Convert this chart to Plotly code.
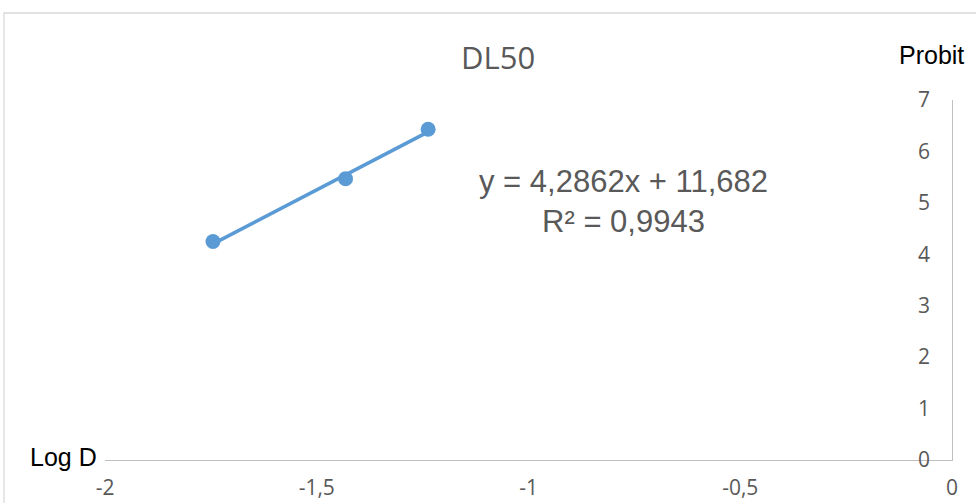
import plotly.graph_objects as go

# Log dose vs probit data
log_dose = [-1.745, -1.432, -1.237]
probit = [4.25, 5.47, 6.43]

# Linear trendline reported on the chart
slope = 4.2862
intercept = 11.682
r_squared = 0.9943

x_ticks = [-2, -1.5, -1, -0.5, 0]
x_tick_text = ["-2", "-1,5", "-1", "-0,5", "0"]
y_ticks = [0, 1, 2, 3, 4, 5, 6, 7]

blue = "#5B9BD5"
grey_text = "#595959"
axis_grey = "#BFBFBF"

trend_x = [min(log_dose), max(log_dose)]
trend_y = [slope * v + intercept for v in trend_x]

fig = go.Figure()
fig.add_trace(go.Scatter(
    x=trend_x, y=trend_y, mode="lines",
    line=dict(color=blue, width=3.6), hoverinfo="skip", showlegend=False,
))
fig.add_trace(go.Scatter(
    x=log_dose, y=probit, mode="markers",
    marker=dict(color=blue, size=15), showlegend=False,
))

fig.update_layout(
    width=976, height=503,
    margin=dict(l=105, r=24, t=100, b=43),
    paper_bgcolor="white", plot_bgcolor="white",
    showlegend=False,
    xaxis=dict(
        range=[-2, 0], tickvals=x_ticks, ticktext=x_tick_text,
        showgrid=False, zeroline=False, showline=True, linecolor=axis_grey, linewidth=1.3,
        ticks="", ticklabelstandoff=9, automargin=False, ticklabeloverflow="allow",
        tickfont=dict(family="Open Sans", size=21, color=grey_text),
    ),
    yaxis=dict(
        range=[0, 7], tickvals=y_ticks, side="right", ticklabelposition="inside",
        showgrid=False, zeroline=False, showline=True, linecolor=axis_grey, linewidth=1.3,
        ticks="", ticklabelstandoff=23, automargin=False, ticklabeloverflow="allow",
        tickfont=dict(family="Open Sans", size=21, color=grey_text),
    ),
    shapes=[dict(
        type="rect", xref="paper", yref="paper",
        x0=(4 - 105) / 847, x1=1.2, y0=-0.3, y1=(460 - 13) / 360,
        line=dict(color="#D9D9D9", width=1.3), fillcolor="rgba(0,0,0,0)", layer="below",
    )],
    annotations=[
        dict(text="DL50", xref="paper", yref="paper", x=(498 - 105) / 847, y=(460 - 57) / 360,
             showarrow=False, font=dict(family="Open Sans", size=31, color=grey_text),
             xanchor="center", yanchor="middle"),
        dict(text="Probit", xref="paper", yref="paper", x=(931 - 105) / 847, y=(460 - 55) / 360,
             showarrow=False, font=dict(family="Liberation Sans", size=25, color="black"),
             xanchor="center", yanchor="middle"),
        dict(text="Log D", xref="paper", yref="paper", x=(99 - 105) / 847, y=(460 - 457) / 360,
             showarrow=False, font=dict(family="Liberation Sans", size=25, color="black"),
             xanchor="right", yanchor="middle"),
        dict(text=("y = " + f"{slope:.4f}".replace(".", ",") + "x + "
                   + f"{intercept:.3f}".replace(".", ",")
                   + "<br>R² = " + f"{r_squared:.4f}".replace(".", ",")),
             xref="paper", yref="paper", x=(623 - 105) / 847, y=(460 - 201) / 360,
             showarrow=False, font=dict(family="Liberation Sans", size=31, color=grey_text),
             xanchor="center", yanchor="middle", align="center"),
    ],
)

fig.write_html("out.html")
